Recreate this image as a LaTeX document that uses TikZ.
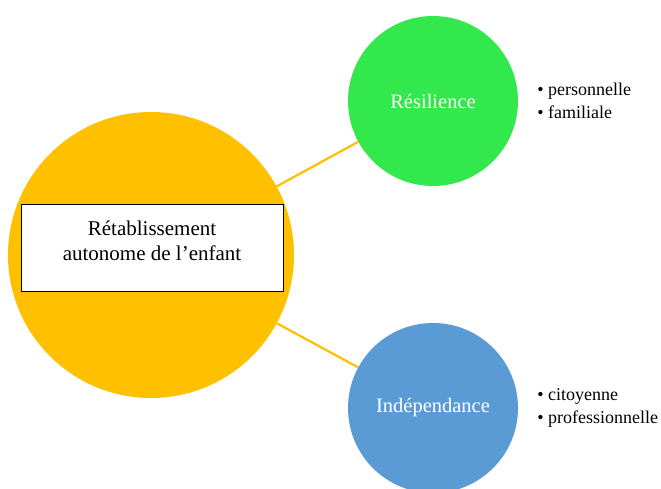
\documentclass[tikz,border=0pt]{standalone}
\usepackage{fontspec}
\setmainfont{Liberation Serif}
\usepackage{tikz}
\usetikzlibrary{positioning}

\definecolor{jaune}{HTML}{FFC000}
\definecolor{vert}{HTML}{32E84C}
\definecolor{bleu}{HTML}{5B9BD5}

\tikzset{
  rond/.style={circle,inner sep=0pt,font=\fontsize{20.5}{24}\selectfont},
  petit/.style={rond,minimum size=170pt,text=white},
  liste/.style={align=left,inner sep=0pt,font=\fontsize{18}{23}\selectfont},
  lien/.style={draw=jaune,line width=2.2pt}
}

\begin{document}
\begin{tikzpicture}[x=1pt,y=-1pt]
\clip (0,0) rectangle (661,489);
\fill[white] (0,0) rectangle (661,489);
\node[rond,fill=jaune,minimum size=286pt] (enfant) at (151,255) {};
\node[draw=black,fill=white,line width=0.8pt,minimum width=262pt,minimum height=87pt] (cadre) at (152,248) {};
\node[align=center,font=\fontsize{21}{25}\selectfont] (titre) at ([yshift=7pt]cadre.center) {Rétablissement\\autonome de l’enfant};
\node[petit,fill=vert] (resil) at (433,101) {Résilience};
\node[petit,fill=bleu] (indep) at (433,408) {Indépendance};
\draw[lien] (enfant) -- (resil);
\draw[lien] (enfant) -- (indep);
\node[liste,right=19pt of resil] (persfam) {• personnelle\\• familiale};
\node[liste,right=19pt of indep] (citpro) {• citoyenne\\• professionnelle};
\end{tikzpicture}
\end{document}
